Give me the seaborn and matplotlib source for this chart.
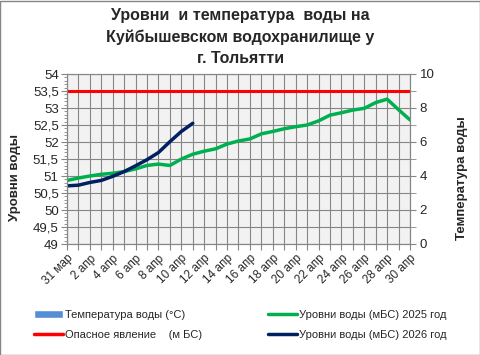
import matplotlib
matplotlib.use("Agg")
import matplotlib.pyplot as plt
from matplotlib.patches import Patch, Rectangle
from matplotlib.ticker import MultipleLocator, FuncFormatter
import seaborn as sns
import pandas as pd

# Dates (31 Mar .. 30 Apr)
dates = ["31 мар"] + [f"{d} апр" for d in range(1, 31)]

# Water levels, m BS
level_2025 = [50.87, 50.94, 51.00, 51.05, 51.08, 51.13, 51.21, 51.31, 51.35, 51.31,
              51.50, 51.64, 51.73, 51.80, 51.94, 52.03, 52.09, 52.24, 52.31, 52.39,
              52.45, 52.50, 52.62, 52.79, 52.86, 52.94, 52.99, 53.16, 53.26, 52.95,
              52.65]
level_2026 = [50.71, 50.73, 50.81, 50.87, 50.99, 51.13, 51.30, 51.48, 51.69, 52.01,
              52.31, 52.55]
danger_level = [53.5] * len(dates)
water_temp = []  # no temperature data shown

sns.set_style("white")
plt.rcParams["font.family"] = ["Liberation Sans", "DejaVu Sans"]

fig = plt.figure(figsize=(4.81, 3.55), dpi=100)
ax = fig.add_axes([67 / 481, 1 - 244 / 355, (410 - 67) / 481, (244 - 74) / 355])
ax.set_facecolor("#F2F2F2")

days = list(range(len(dates)))
df25 = pd.DataFrame({"day": days, "level": level_2025})
df26 = pd.DataFrame({"day": days[:len(level_2026)], "level": level_2026})
dfd = pd.DataFrame({"day": days, "level": danger_level})

sns.lineplot(data=dfd, x="day", y="level", ax=ax, color="#FF0000", linewidth=2.2)
sns.lineplot(data=df25, x="day", y="level", ax=ax, color="#00B050", linewidth=2.5)
sns.lineplot(data=df26, x="day", y="level", ax=ax, color="#002060", linewidth=2.5)

ax.set_xlim(0, len(dates) - 1)
ax.set_ylim(49, 54)
ax.yaxis.set_major_locator(MultipleLocator(0.5))
ax.yaxis.set_minor_locator(MultipleLocator(0.1))
ax.yaxis.set_major_formatter(FuncFormatter(lambda v, p: f"{v:g}".replace(".", ",")))
ax.set_xticks(days)
ax.set_xticklabels([d if i % 2 == 0 else "" for i, d in enumerate(dates)],
                   rotation=45, ha="right", rotation_mode="anchor", fontsize=8.5)
ax.grid(True, which="major", color="#868686", linewidth=0.8)
ax.tick_params(axis="both", which="major", length=4, color="#868686", direction="out",
               left=True, bottom=True, pad=2)
ax.tick_params(axis="y", which="minor", length=2.5, color="#868686", direction="out", left=True)
ax.tick_params(axis="y", labelsize=9.5)
for s in ax.spines.values():
    s.set_color("#868686")
ax.set_xlabel("")
ax.set_ylabel("Уровни воды", fontsize=9.5, fontweight="bold")
ax.yaxis.set_label_coords(-0.134, 0.39)

ax2 = ax.twinx()
ax2.set_ylim(0, 10)
ax2.yaxis.set_major_locator(MultipleLocator(2))
ax2.yaxis.set_minor_locator(MultipleLocator(1))
ax2.tick_params(axis="y", which="both", length=4, color="#868686", direction="out",
                right=True, labelsize=9.5, pad=3)
for s in ax2.spines.values():
    s.set_color("#868686")
ax2.set_ylabel("Температура воды", fontsize=9.5, fontweight="bold")
ax2.yaxis.set_label_coords(1.134, 0.39)
if water_temp:
    ax2.bar(days[:len(water_temp)], water_temp, color="#558ED5")

fig.text(0.5, 1 - 8 / 355, "Уровни  и температура  воды на\nКуйбышевском водохранилище у\nг. Тольятти",
         ha="center", va="top", fontsize=11.5, fontweight="bold", linespacing=1.5)

handles = [
    Patch(facecolor="#558ED5", label="Температура воды (°С)"),
    plt.Line2D([], [], color="#FF0000", lw=2.5, label="Опасное явление    (м БС)"),
    plt.Line2D([], [], color="#00B050", lw=2.5, label="Уровни воды (мБС) 2025 год"),
    plt.Line2D([], [], color="#002060", lw=2.5, label="Уровни воды (мБС) 2026 год"),
]
fig.legend(handles=handles, ncol=2, loc="center left", bbox_to_anchor=(24 / 481, 1 - 325 / 355),
           frameon=False, fontsize=8, handlelength=2.6, handletextpad=0.15,
           columnspacing=6.0, labelspacing=0.9, handleheight=0.8)

fig.add_artist(Rectangle((0.001, 0.001), 0.997, 0.996, transform=fig.transFigure,
                         fill=False, edgecolor="#868686", linewidth=1))

fig.savefig("out.png", dpi=100)
